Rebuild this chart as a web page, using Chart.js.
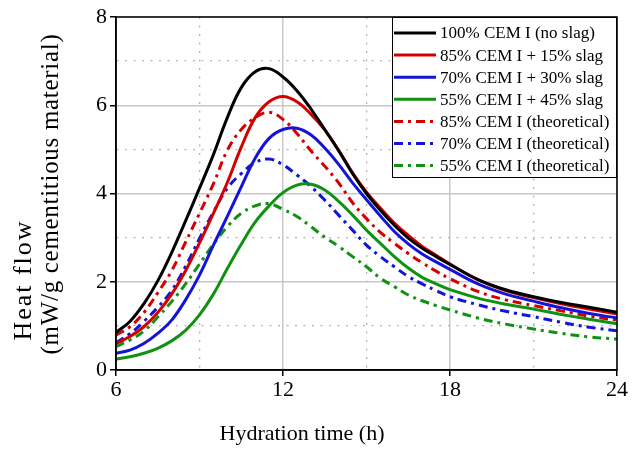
<!DOCTYPE html>
<html><head><meta charset="utf-8">
<script src="https://cdn.jsdelivr.net/npm/chart.js@4.4.1/dist/chart.umd.min.js"></script>
<style>html,body{margin:0;padding:0;background:#fff}</style>
</head><body>
<canvas id="c" width="633" height="449"></canvas>
<script>
// ---- data ----
const times = [6,6.5,7,7.5,8,8.5,9,9.5,10,10.5,11,11.5,12,12.5,13,13.5,14,14.5,15,15.5,16,16.5,17,17.5,18,19,20,21,22,23,24];
const cem100 = [0.85,1.1,1.5,2.02,2.66,3.38,4.12,4.88,5.72,6.4,6.76,6.83,6.64,6.33,5.92,5.45,4.97,4.45,4.0,3.62,3.28,2.99,2.76,2.57,2.39,2.05,1.82,1.66,1.53,1.42,1.31];
const slag15 = [0.6,0.76,0.98,1.3,1.72,2.25,2.88,3.55,4.25,5.05,5.72,6.08,6.2,6.08,5.8,5.44,4.98,4.47,4.03,3.67,3.33,3.05,2.8,2.6,2.4,2.05,1.8,1.64,1.5,1.38,1.27];
const slag30 = [0.38,0.45,0.6,0.83,1.13,1.59,2.15,2.83,3.48,4.15,4.8,5.25,5.45,5.48,5.33,5.03,4.66,4.24,3.86,3.49,3.14,2.86,2.63,2.45,2.28,1.95,1.72,1.56,1.41,1.28,1.18];
const slag45 = [0.25,0.3,0.38,0.49,0.66,0.9,1.25,1.72,2.3,2.85,3.35,3.72,4.02,4.19,4.21,4.08,3.82,3.51,3.17,2.87,2.57,2.31,2.1,1.95,1.82,1.63,1.49,1.38,1.26,1.15,1.05];
const theo85 = [0.79,0.98,1.3,1.75,2.25,2.9,3.55,4.22,4.98,5.45,5.72,5.84,5.68,5.36,4.97,4.62,4.24,3.79,3.43,3.12,2.87,2.64,2.43,2.24,2.07,1.78,1.59,1.46,1.34,1.22,1.13];
const theo70 = [0.62,0.82,1.1,1.42,1.8,2.35,2.98,3.58,4.12,4.45,4.7,4.78,4.65,4.42,4.16,3.85,3.51,3.17,2.83,2.57,2.34,2.12,1.95,1.8,1.66,1.48,1.33,1.21,1.08,0.97,0.89];
const theo55 = [0.53,0.68,0.88,1.2,1.55,1.95,2.4,2.85,3.25,3.55,3.72,3.77,3.64,3.48,3.25,3.01,2.8,2.57,2.34,2.08,1.89,1.7,1.57,1.46,1.36,1.18,1.04,0.93,0.83,0.75,0.7];
const seriesLabels = ['100% CEM I (no slag)','85% CEM I + 15% slag','70% CEM I + 30% slag','55% CEM I + 45% slag','85% CEM I (theoretical)','70% CEM I (theoretical)','55% CEM I (theoretical)'];
const xTitle = 'Hydration time (h)';
const yTitleLines = ['Heat flow', '(mW/g cementitious material)'];

// ---- styles ----
const RED = '#d40000', BLUE = '#1414d8', GREEN = '#119111', BLACK = '#000000';
const DASHDOT = [9, 5, 3, 5];
const seriesValues = [cem100, slag15, slag30, slag45, theo85, theo70, theo55];
const seriesColors = [BLACK, RED, BLUE, GREEN, RED, BLUE, GREEN];
const seriesDashed = [false, false, false, false, true, true, true];
const SERIF = "'Liberation Serif', 'Times New Roman', serif";

const datasets = seriesValues.map((vals, i) => ({
  label: seriesLabels[i],
  data: times.map((t, j) => ({x: t, y: vals[j]})),
  borderColor: seriesColors[i],
  backgroundColor: seriesColors[i],
  borderWidth: 3,
  borderDash: seriesDashed[i] ? DASHDOT : [],
  pointRadius: 0,
  tension: 0.4,
  fill: false
}));

const isMinorX = c => c.tick && ((c.tick.value - 6) % 6 !== 0);
const isMinorY = c => c.tick && (c.tick.value % 2 !== 0);

const decor = {
  id: 'decor',
  afterDraw(chart) {
    const {ctx, chartArea: a} = chart;
    ctx.save();
    // frame
    ctx.strokeStyle = '#000';
    ctx.lineWidth = 1.5;
    ctx.setLineDash([]);
    ctx.strokeRect(a.left, a.top, a.right - a.left, a.bottom - a.top);

    // legend box
    const bx = 392, by = a.top, bw = a.right - bx, bh = 161;
    ctx.fillStyle = '#fff';
    ctx.fillRect(bx, by, bw, bh);
    ctx.lineWidth = 1;
    ctx.strokeStyle = '#000';
    ctx.strokeRect(bx + 0.5, by + 0.5, bw - 1, bh - 1);
    ctx.font = '17px ' + SERIF;
    ctx.textBaseline = 'middle';
    ctx.textAlign = 'left';
    chart.data.datasets.forEach((ds, i) => {
      const y = by + 16 + i * 22.1;
      ctx.beginPath();
      ctx.strokeStyle = ds.borderColor;
      ctx.lineWidth = ds.borderWidth;
      ctx.setLineDash(ds.borderDash || []);
      ctx.moveTo(bx + 2, y);
      ctx.lineTo(bx + 44, y);
      ctx.stroke();
      ctx.setLineDash([]);
      ctx.fillStyle = '#000';
      ctx.fillText(ds.label, bx + 48, y + 1);
    });

    // axis titles
    ctx.fillStyle = '#000';
    ctx.textAlign = 'center';
    ctx.textBaseline = 'alphabetic';
    ctx.font = '22px ' + SERIF;
    ctx.fillText(xTitle, 302, 440);

    ctx.save();
    ctx.font = '26px ' + SERIF;
    ctx.translate(31, 280);
    ctx.rotate(-Math.PI / 2);
    try { ctx.letterSpacing = '2px'; } catch (e) {}
    ctx.fillText(yTitleLines[0], 0, 0);
    ctx.restore();
    ctx.save();
    ctx.font = '25px ' + SERIF;
    ctx.translate(58, 194);
    ctx.rotate(-Math.PI / 2);
    try { ctx.letterSpacing = '0.7px'; } catch (e) {}
    ctx.fillText(yTitleLines[1], 0, 0);
    ctx.restore();
    ctx.restore();
  }
};

new Chart(document.getElementById('c'), {
  type: 'line',
  data: { datasets },
  plugins: [decor],
  options: {
    responsive: false,
    devicePixelRatio: 1,
    animation: false,
    layout: { padding: { top: 17, right: 16, left: 0, bottom: 0 } },
    plugins: { legend: { display: false }, tooltip: { enabled: false } },
    scales: {
      x: {
        type: 'linear', min: 6, max: 24,
        afterFit(s) { s.height = 79; },
        ticks: {
          stepSize: 3, autoSkip: false, maxRotation: 0, color: '#000', padding: 1,
          font: { family: SERIF, size: 22 },
          callback: v => ((v - 6) % 6 === 0 ? String(v) : '')
        },
        grid: {
          color: c => isMinorX(c) ? '#b4b4b4' : '#c8c8c8',
          lineWidth: c => isMinorX(c) ? 1.3 : 1.5,
          tickLength: 6, tickWidth: 1.5,
          tickColor: c => isMinorX(c) ? 'rgba(0,0,0,0)' : '#000'
        },
        border: { color: '#000', width: 1.5, dash: c => isMinorX(c) ? [2, 6.5] : [] }
      },
      y: {
        type: 'linear', min: 0, max: 8,
        afterFit(s) { s.width = 116; },
        ticks: {
          stepSize: 1, autoSkip: false, color: '#000', padding: 3,
          font: { family: SERIF, size: 22 },
          callback: v => (v % 2 === 0 ? String(v) : '')
        },
        grid: {
          color: c => isMinorY(c) ? '#b4b4b4' : '#c8c8c8',
          lineWidth: c => isMinorY(c) ? 1.3 : 1.5,
          tickLength: 6, tickWidth: 1.5,
          tickColor: c => isMinorY(c) ? 'rgba(0,0,0,0)' : '#000'
        },
        border: { color: '#000', width: 1.5, dash: c => isMinorY(c) ? [2, 6.5] : [] }
      }
    }
  }
});
</script>
</body></html>
